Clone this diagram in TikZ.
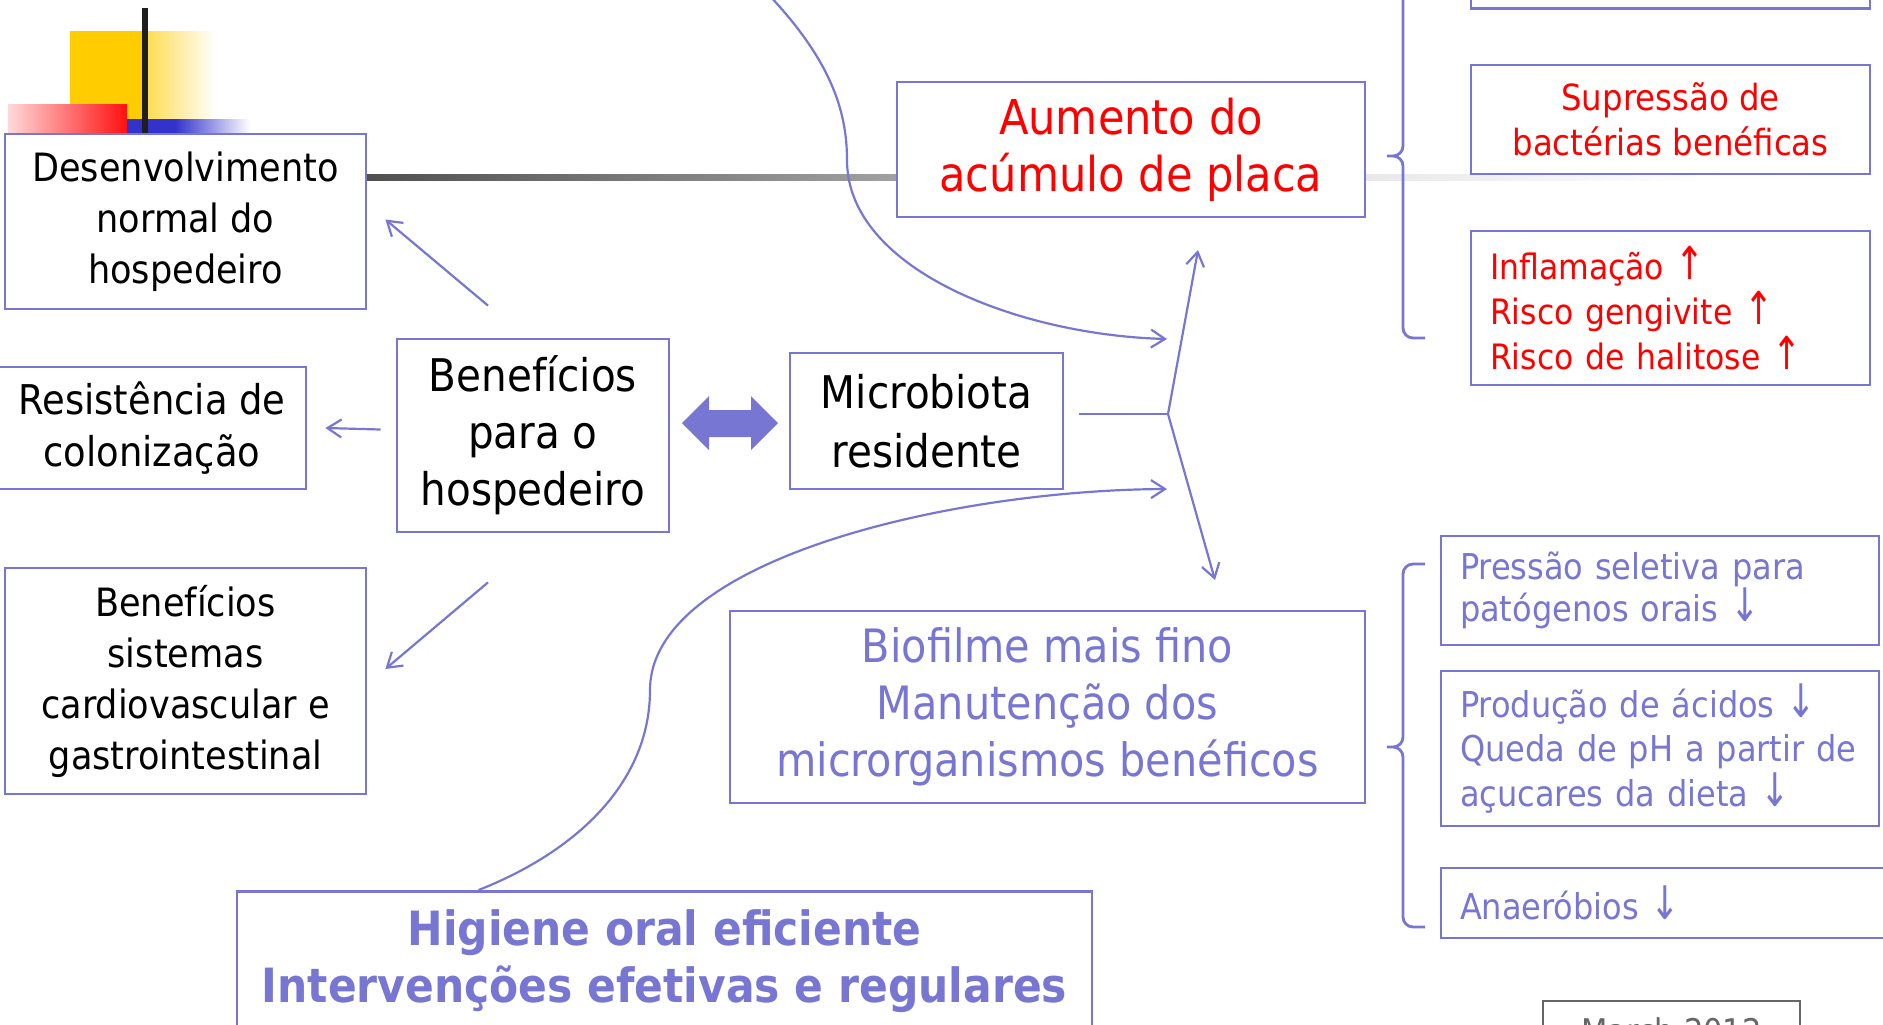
\documentclass[tikz,border=0pt]{standalone}
\usepackage{fontspec}
\setmainfont{DejaVu Sans Condensed}
\usetikzlibrary{arrows.meta,calc,positioning}
\definecolor{boxblue}{RGB}{119,119,211}
\definecolor{linegray}{RGB}{80,80,80}
\definecolor{tplyellow}{RGB}{255,204,0}
\definecolor{tplblue}{RGB}{51,51,204}
\definecolor{tplred}{RGB}{255,16,16}
\newcommand{\uparr}{\scalebox{1.1}[1.3]{↑}}
\newcommand{\dnarr}{\scalebox{1.1}[1.3]{↓}}
\tikzset{
    box/.style={draw=boxblue, line width=1.4pt, fill=white, align=center, inner sep=0pt},
    leftbox/.style={box, align=left, inner xsep=9.5pt},
    conn/.style={draw=boxblue, line width=1.1pt, -{Straight Barb[length=7pt,width=9pt]}},
    brace/.style={draw=boxblue, line width=1.4pt, rounded corners=5pt},
    fs/.style 2 args={font=\fontsize{#1}{#2}\selectfont}
}

\begin{document}
\begin{tikzpicture}[x=0.5pt, y=-0.5pt]
    \useasboundingbox (0,0) rectangle (1883,1024);
    \clip (0,0) rectangle (1883,1024);

    % slide template
    \fill[tplyellow] (70,31) rectangle (144,119);
    \shade[left color=tplyellow!70, right color=white] (144,31) rectangle (216,119);
    \shade[left color=red!15, right color=tplred] (8,104) rectangle (127,133);
    \fill[tplblue] (127,119) rectangle (175,133);
    \shade[left color=tplblue, right color=white] (175,119) rectangle (250,133);
    \fill[black!88] (142,8) rectangle (148,133);
    \shade[left color=linegray, right color=black!9] (366,174) rectangle (1365,180);
    \shade[left color=black!9, right color=white] (1365,174) rectangle (1720,180);

    % Nodes
    \node[box, fs={19.5}{25.5}, minimum width=180.5pt, minimum height=87.5pt] (desenv) at (185.5,221.5) {Desenvolvimento\\normal do\\hospedeiro};
    \node[box, fs={20.5}{26}, minimum width=154pt, minimum height=61pt] (resist) at (152,428) {Resistência de\\colonização};
    \node[box, fs={19.5}{25.5}, minimum width=180.5pt, minimum height=113pt] (sist) at (185.5,681) {Benefícios\\sistemas\\cardiovascular e\\gastrointestinal};
    \node[box, fs={22.5}{28.5}, minimum width=136pt, minimum height=96.5pt] (benef) at (533,435.5) {Benefícios\\para o\\hospedeiro};
    \node[box, fs={22.5}{29.5}, minimum width=136.5pt, minimum height=68pt] (micro) at (926.5,421) {Microbiota\\residente};
    \node[box, fs={24}{28.5}, text=red, minimum width=234pt, minimum height=67.5pt] (aument) at (1131,149.5) {Aumento do\\acúmulo de placa};
    \node[box, fs={23}{28.5}, text=boxblue, minimum width=317.5pt, minimum height=96pt] (biofil) at (1047.5,707) {Biofilme mais fino\\Manutenção dos\\microrganismos benéficos};
    \node[box, font={\fontsize{23.6}{28.5}\selectfont\bfseries}, text=boxblue, minimum width=427.5pt, minimum height=70pt, anchor=north] (higiene) at (664.5,890) {Higiene oral eficiente\\Intervenções efetivas e regulares};

    \node[box, minimum width=199.5pt, minimum height=40pt, anchor=south] (topbox) at (1670.5,10) {};
    \node[box, fs={18}{22.5}, text=red, minimum width=199.5pt, minimum height=54.5pt] (supress) at (1670.5,119.5) {Supressão de\\bactérias benéficas};
    \node[leftbox, fs={17.5}{22.7}, text=red, text width=180.5pt, minimum height=77pt] (inflam) at (1670.5,308) {Inflamação \uparr\\Risco gengivite \uparr\\Risco de halitose \uparr};
    \node[leftbox, fs={17.8}{21}, text=boxblue, text width=200pt, minimum height=54.5pt] (pressao) at (1660,590.5) {Pressão seletiva para\\patógenos orais \dnarr};
    \node[leftbox, fs={17.8}{22.3}, text=boxblue, text width=200pt, minimum height=77.5pt] (producao) at (1660,748.5) {Produção de ácidos \dnarr\\Queda de pH a partir de\\açucares da dieta \dnarr};
    \node[leftbox, fs={17.8}{21}, text=boxblue, text width=205.5pt, minimum height=35pt] (anaer) at (1665.5,903) {Anaeróbios \dnarr};
    \node[draw=black!60, line width=1pt, fill=white, fs={17}{21}, text=black!60, minimum width=128.5pt, minimum height=30pt, anchor=north west] (march) at (1542,1000) {March 2012};

    % double arrow
    \fill[boxblue] (682,423) -- (709,396) -- (709,410) -- (751,410) -- (751,396) -- (778,423)
        -- (751,450) -- (751,437) -- (709,437) -- (709,450) -- cycle;

    % arrows from benef
    \draw[conn] ($(benef.north)+(-45,-32)$) -- ($(desenv.east)+(18,-2)$);
    \draw[conn] ($(benef.west)+(-15,-6)$) -- ($(resist.east)+(18,0)$);
    \draw[conn] ($(benef.south)+(-45,49)$) -- ($(sist.east)+(18,-12)$);

    % fork from micro
    \coordinate (fork) at (1168,414);
    \coordinate (upend) at (1198,250);
    \coordinate (downend) at (1215,580);
    \draw[conn, -] ($(micro.east)+(15,-7)$) -- (fork);
    \draw[conn] (fork) -- (upend);
    \draw[conn] (fork) -- (downend);

    % curves
    \coordinate (topstart) at (769,-5);
    \coordinate (topend) at (1167,339);
    \coordinate (botend) at (1167,489);
    \draw[conn] (topstart) .. controls (830,60) and (847,110) .. (847,160)
        .. controls (847,270) and (1020,335) .. (topend);
    \draw[conn] ($(higiene.north west)+(243,0)$) .. controls (580,850) and (650,780) .. (650,690)
        .. controls (650,560) and (950,490) .. (botend);

    % braces
    \draw[brace] (1403,-10) -- (1403,156) -- (1381,156) -- (1403,156) -- (1403,338) -- (1425,338);
    \draw[brace] (1425,564) -- (1403,564) -- (1403,747) -- (1381,747) -- (1403,747) -- (1403,927) -- (1425,927);
\end{tikzpicture}
\end{document}
